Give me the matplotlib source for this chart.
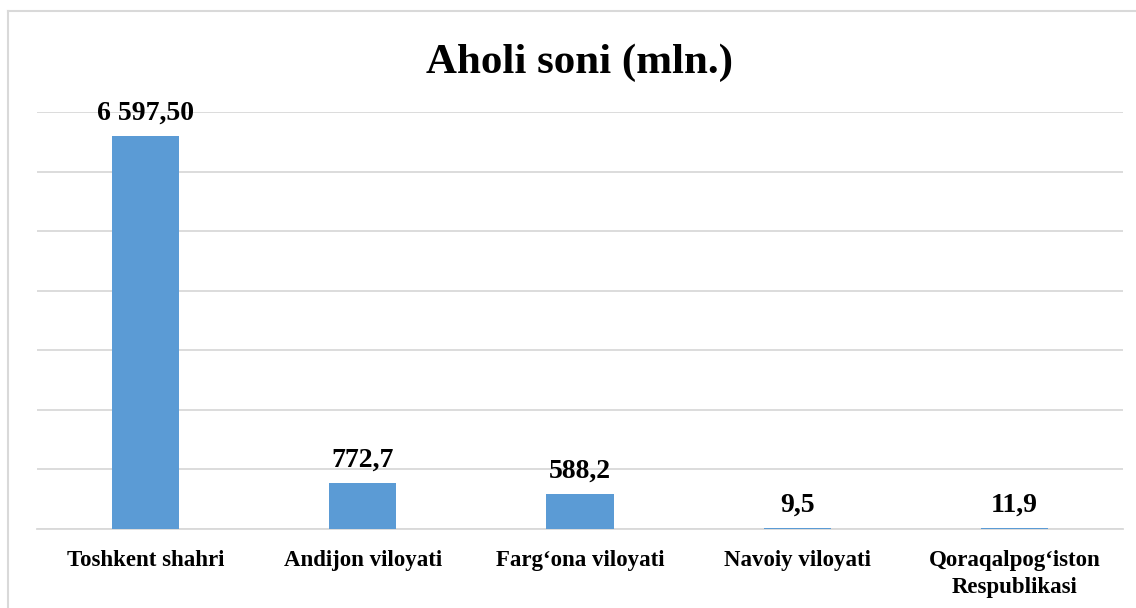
import matplotlib
matplotlib.use("Agg")
import matplotlib.pyplot as plt
from matplotlib.lines import Line2D

categories = ["Toshkent shahri", "Andijon viloyati", "Farg\u2018ona viloyati",
              "Navoiy viloyati", "Qoraqalpog\u2018iston\nRespublikasi"]
values = [6597.5, 772.7, 588.2, 9.5, 11.9]
value_labels = ["6 597,50", "772,7", "588,2", "9,5", "11,9"]
title = "Aholi soni (mln.)"

plt.rcParams['font.family'] = ['Liberation Serif', 'DejaVu Serif']

fig = plt.figure(figsize=(11.36, 6.08), dpi=100)
ax = fig.add_axes([37/1136, 1-529/608, (1123-37)/1136, (529-112)/608])

x = list(range(len(categories)))
ax.bar(x, values, width=0.31, color="#5b9bd5", zorder=3)
ax.set_xlim(-0.5, len(categories)-0.5)
ax.set_ylim(0, 7000)
ax.set_yticks(range(0, 7001, 1000))
ax.yaxis.grid(True, color="#d9d9d9", linewidth=1.3, zorder=0)
ax.tick_params(axis='y', left=False, labelleft=False)
ax.tick_params(axis='x', length=0, pad=15)
ax.set_xticks(x)
ax.set_xticklabels(categories, fontsize=16.5, fontweight='bold', linespacing=1.4)
for s in ['top', 'right', 'left']:
    ax.spines[s].set_visible(False)
ax.spines['bottom'].set_color("#d9d9d9")
ax.spines['bottom'].set_linewidth(1.3)

for xi, v, lab in zip(x, values, value_labels):
    ax.annotate(lab, (xi, v), xytext=(0, 12), textcoords='offset points',
                ha='center', va='baseline', fontsize=20, fontweight='bold')

fig.text(580/1136, 1-63/608, title, ha='center', va='center',
         fontsize=31, fontweight='bold')

# outer chart border (light gray)
fig.add_artist(Line2D([8/1136, 8/1136], [0, 1-11/608], transform=fig.transFigure,
                      color="#d9d9d9", linewidth=1.5))
fig.add_artist(Line2D([8/1136, 1], [1-11/608, 1-11/608], transform=fig.transFigure,
                      color="#d9d9d9", linewidth=1.5))

fig.savefig("out.png", dpi=100, facecolor="white")
